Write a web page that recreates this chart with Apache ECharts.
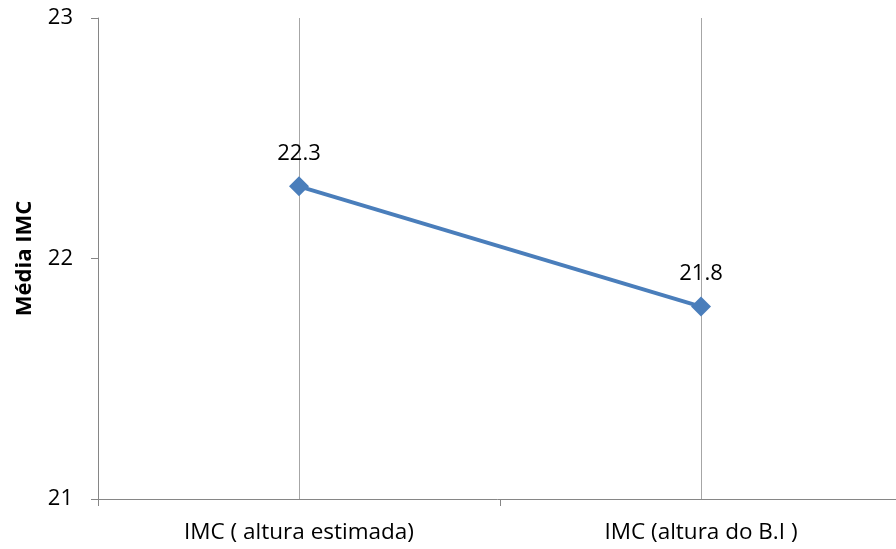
<!DOCTYPE html>
<html><head><meta charset="utf-8">
<script src="https://cdn.jsdelivr.net/npm/echarts@6/dist/echarts.min.js"></script>
<style>html,body{margin:0;padding:0;background:#fff}#c{width:896px;height:549px}</style>
</head><body><div id="c"></div>
<script>
const categories = ['IMC ( altura estimada)', 'IMC (altura do B.I )'];
const values = [22.3, 21.8];
const yTicks = { min: 21, max: 23, interval: 1 };
const yTitle = 'Média IMC';

const font = 'Open Sans, Liberation Sans, sans-serif';
const chart = echarts.init(document.getElementById('c'));
chart.setOption({
  animation: false,
  grid: { left: 98, right: -6, top: 18, bottom: 50, containLabel: false, outerBoundsMode: 'none' },
  xAxis: {
    type: 'category', data: categories, boundaryGap: true,
    axisLine: { lineStyle: { color: '#868686', width: 1 } },
    axisTick: { show: true, length: 7, lineStyle: { color: '#868686' } },
    axisLabel: { color: '#000', fontSize: 22.5, fontFamily: font, margin: 22 },
    splitLine: { show: false }
  },
  yAxis: {
    type: 'value', min: yTicks.min, max: yTicks.max, interval: yTicks.interval,
    name: yTitle, nameLocation: 'middle', nameGap: 62, nameRotate: 90,
    nameTextStyle: { color: '#000', fontSize: 22, fontWeight: 'bold', fontFamily: font },
    axisLine: { show: true, lineStyle: { color: '#868686', width: 1 } },
    axisTick: { show: true, length: 7, lineStyle: { color: '#868686' } },
    axisLabel: { color: '#000', fontSize: 22, fontFamily: font, margin: 25 },
    splitLine: { show: false }
  },
  series: [{
    type: 'line', data: values,
    symbol: 'diamond', symbolSize: 20,
    itemStyle: { color: '#4a7ebb' },
    lineStyle: { color: '#4a7ebb', width: 4 },
    label: { show: true, position: 'top', distance: 12, color: '#000', fontSize: 22, fontFamily: font },
    z: 3,
    markLine: {
      silent: true, symbol: 'none', z: 1,
      label: { show: false },
      lineStyle: { color: '#a6a6a6', type: 'solid', width: 1 },
      data: categories.map(c => ({ xAxis: c }))
    }
  }]
});
</script></body></html>
